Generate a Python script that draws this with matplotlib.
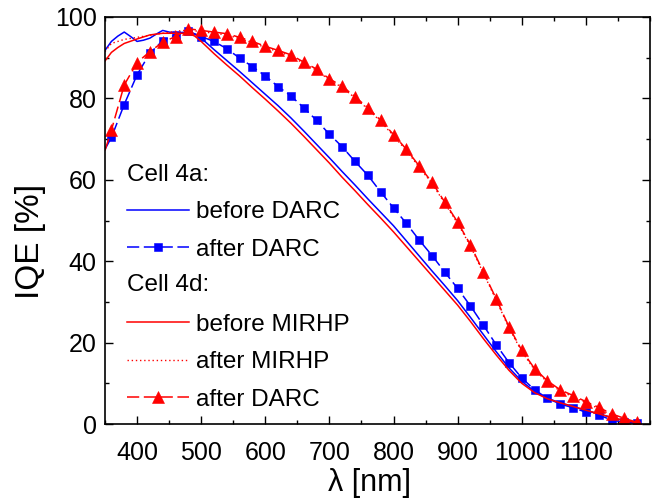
import matplotlib
matplotlib.use("Agg")
import matplotlib.pyplot as plt
from matplotlib.lines import Line2D
from matplotlib.ticker import MultipleLocator

plt.rcParams['font.family'] = ['Liberation Sans', 'DejaVu Sans']

# ---- data ----
wl_4a_before = [350, 360, 370, 380, 390, 400, 410, 420, 430, 440, 450, 460, 470, 480, 490, 500,
                520, 540, 560, 580, 600, 620, 640, 660, 680, 700, 720, 740, 760, 780, 800,
                820, 840, 860, 880, 900, 920, 940, 960, 980, 1000, 1020, 1040, 1060, 1080,
                1100, 1120, 1140, 1160, 1180]
iqe_4a_before = [91.8, 94.0, 95.3, 96.3, 95.2, 94.0, 94.3, 94.8, 95.8, 96.7, 96.3, 96.0, 96.2, 96.3, 95.8, 94.8,
                 92.0, 89.3, 86.6, 83.8, 81.0, 78.2, 75.2, 72.0, 68.7, 65.4, 62.0, 58.7, 55.3, 52.0, 48.7,
                 45.0, 41.3, 37.6, 34.0, 30.3, 26.2, 22.0, 17.8, 13.8, 10.5, 8.0, 6.3, 5.2, 4.3,
                 3.3, 2.5, 1.6, 0.8, 0.2]

wl_4d_before = [350, 360, 370, 380, 400, 420, 440, 460, 480, 490, 500, 520, 540, 560, 580, 600,
                620, 640, 660, 680, 700, 720, 740, 760, 780, 800, 820, 840, 860, 880, 900,
                920, 940, 960, 980, 1000, 1020, 1040, 1060, 1080, 1100, 1120, 1140, 1160, 1180]
iqe_4d_before = [89.2, 91.3, 92.5, 93.5, 94.6, 95.6, 96.0, 96.0, 96.0, 95.3, 94.0, 91.0, 88.2, 85.5, 82.6, 79.8,
                 76.9, 73.9, 70.7, 67.4, 64.1, 60.6, 57.3, 53.9, 50.6, 47.2, 43.6, 40.0, 36.4, 32.8, 29.2,
                 25.2, 21.0, 17.0, 13.2, 10.0, 7.7, 6.2, 5.2, 4.3, 3.4, 2.5, 1.6, 0.9, 0.3]

wl_step = [350, 360, 380, 400, 420, 440, 460, 480, 500, 520, 540, 560, 580, 600, 620, 640, 660,
           680, 700, 720, 740, 760, 780, 800, 820, 840, 860, 880, 900, 920, 940, 960, 980,
           1000, 1020, 1040, 1060, 1080, 1100, 1120, 1140, 1160, 1180]

iqe_4a_after = [67.5, 70.4, 78.5, 85.8, 91.1, 94.2, 95.6, 96.5, 95.2, 94.0, 92.2, 89.9, 87.8, 85.5, 82.9, 80.6, 77.7,
                74.6, 71.2, 68.1, 64.5, 61.1, 57.0, 53.1, 49.3, 45.2, 41.4, 37.3, 33.3, 29.0, 24.3, 19.5, 15.1,
                11.3, 8.4, 6.3, 4.9, 4.0, 2.9, 2.2, 1.0, 0.4, 0.2]

iqe_4d_mirhp = [91.5, 93.5, 94.5, 95.0, 95.5, 96.0, 96.5, 96.8, 96.4, 96.0, 95.6, 94.7, 93.7, 92.5, 91.5, 90.4, 88.6,
                86.9, 84.5, 82.7, 80.1, 77.4, 74.3, 70.8, 67.2, 63.1, 59.1, 54.2, 49.3, 43.7, 37.1, 30.5, 23.6,
                17.8, 13.3, 10.3, 8.1, 6.7, 5.2, 3.8, 2.2, 1.1, 0.2]

iqe_4d_darc = [67.2, 72.2, 83.3, 88.8, 91.5, 93.8, 95.2, 97.1, 96.7, 96.3, 95.9, 95.0, 94.0, 92.8, 91.8, 90.7, 88.9,
               87.2, 84.8, 83.0, 80.4, 77.7, 74.6, 71.1, 67.5, 63.4, 59.4, 54.5, 49.6, 44.0, 37.4, 30.8, 23.9,
               18.1, 13.6, 10.6, 8.4, 7.0, 5.5, 4.1, 2.5, 1.4, 0.4]

labels_4a = ["before DARC", "after DARC"]
labels_4d = ["before MIRHP", "after MIRHP", "after DARC"]
headers = ["Cell 4a:", "Cell 4d:"]

BLUE = "#0000ff"
RED = "#ff0000"

fig = plt.figure(figsize=(6.62, 5.01), dpi=100)
ax = fig.add_axes([105/662, 1-424/501, 545/662, 407/501])

l1, = ax.plot(wl_4a_before, iqe_4a_before, color=BLUE, lw=1.1)
l2, = ax.plot(wl_step, iqe_4a_after, color=BLUE, lw=1.1, ls=(0, (8, 3)),
              marker='s', ms=5.8, mew=0.4, markevery=slice(1, None), mec=BLUE, mfc=BLUE)
l3, = ax.plot(wl_4d_before, iqe_4d_before, color=RED, lw=1.1)
l4, = ax.plot(wl_step, iqe_4d_mirhp, color=RED, lw=1.0, ls=(0, (1, 2)))
l5, = ax.plot(wl_step, iqe_4d_darc, color=RED, lw=1.1, ls=(0, (8, 3)),
              marker='^', ms=8.5, mew=0.4, markevery=slice(1, None), mec=RED, mfc=RED)

ax.set_xlim(350, 1200)
ax.set_ylim(0, 100)
ax.xaxis.set_minor_locator(MultipleLocator(50))
ax.yaxis.set_major_locator(MultipleLocator(20))
ax.yaxis.set_minor_locator(MultipleLocator(10))
ax.set_xticks([400, 500, 600, 700, 800, 900, 1000, 1100])
ax.tick_params(which='both', direction='in', top=True, right=True, width=1.0, labelsize=18)
ax.tick_params(which='major', length=6)
ax.tick_params(which='minor', length=3)
ax.tick_params(axis='x', pad=12)
ax.tick_params(axis='y', pad=6)
for s in ax.spines.values():
    s.set_linewidth(1.2)

ax.set_xlabel("λ [nm]", fontsize=22)
ax.set_ylabel("IQE [%]", fontsize=24)
ax.xaxis.set_label_coords((370-105)/545, (424-468)/407)
ax.yaxis.set_label_coords((46-105)/545, (424-241)/407)

blank = Line2D([], [], linestyle='none')
handles = [l1, l2, blank, l3, l4, l5]
labels = [labels_4a[0], labels_4a[1], " ", labels_4d[0], labels_4d[1], labels_4d[2]]
leg = ax.legend(handles, labels, loc='upper left',
                bbox_to_anchor=((127-105)/545, (424-201)/407),
                frameon=False, fontsize=17.5, handlelength=2.55, handletextpad=0.3,
                labelspacing=0.64, borderpad=0, borderaxespad=0, markerscale=1.0)

ax.text((127-105)/545, (424-175)/407, headers[0], transform=ax.transAxes,
        fontsize=17.5, va='center', ha='left')
ax.text((127-105)/545, (424-285)/407, headers[1], transform=ax.transAxes,
        fontsize=17.5, va='center', ha='left')

fig.savefig("out.png", dpi=100)
